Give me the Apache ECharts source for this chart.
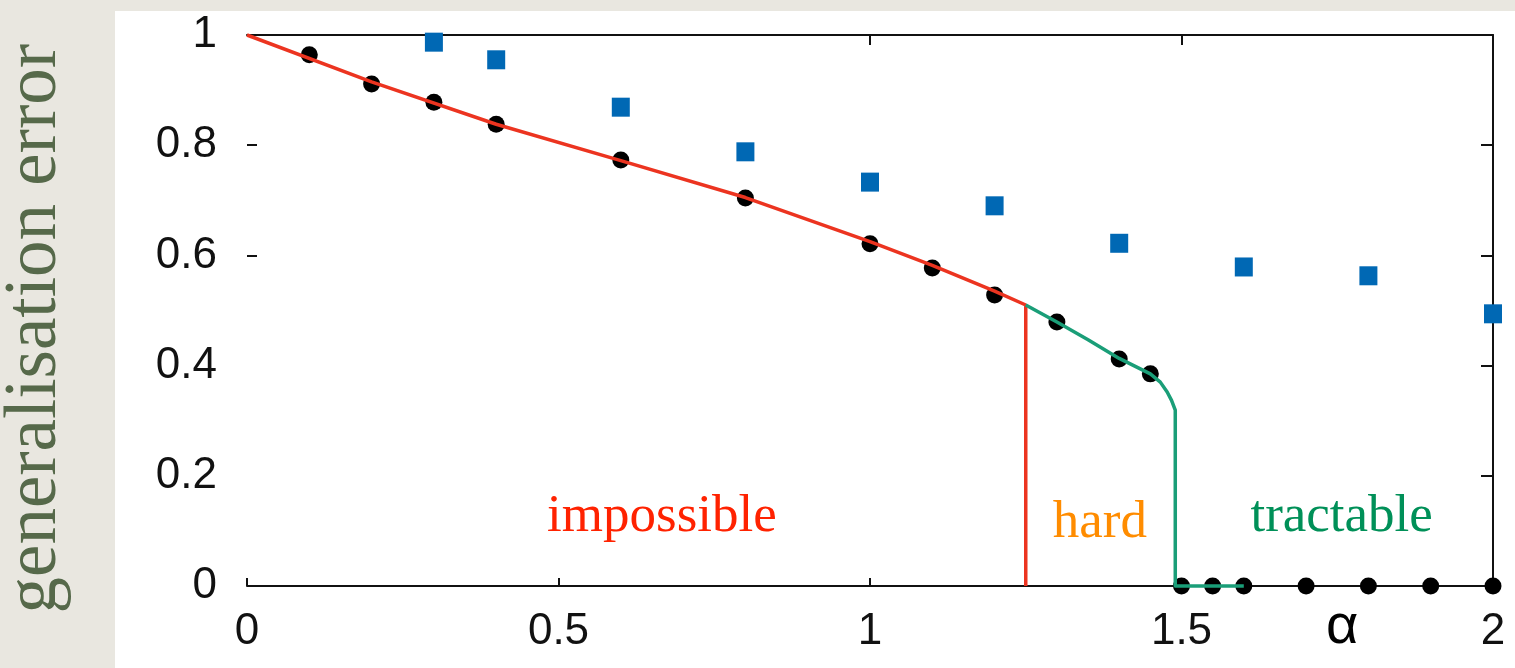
<!DOCTYPE html>
<html>
<head>
<meta charset="utf-8">
<script src="https://cdn.jsdelivr.net/npm/echarts@6/dist/echarts.min.js"></script>
<style>
  html, body { margin: 0; padding: 0; background: #e9e7e0; }
  #paper { position: absolute; left: 115px; top: 11px; right: 0; bottom: 0; background: #fff; }
  #chart { position: absolute; left: 0; top: 0; width: 1515px; height: 668px; }
</style>
</head>
<body>
<div id="paper"></div>
<div id="chart"></div>
<script>
// measured points (black dots)
var alphaDots = [0.1, 0.2, 0.3, 0.4, 0.6, 0.8, 1.0, 1.1, 1.2, 1.3, 1.4, 1.45, 1.5, 1.55, 1.6, 1.7, 1.8, 1.9, 2.0];
var errDots   = [0.964, 0.911, 0.878, 0.838, 0.773, 0.704, 0.621, 0.577, 0.528, 0.479, 0.412, 0.385, 0, 0, 0, 0, 0, 0, 0];
// blue squares
var alphaSquares = [0.3, 0.4, 0.6, 0.8, 1.0, 1.2, 1.4, 1.6, 1.8, 2.0];
var errSquares   = [0.987, 0.955, 0.869, 0.788, 0.733, 0.690, 0.622, 0.579, 0.563, 0.494];
// theory curve, impossible part (red) incl. the vertical drop
var alphaRed = [0, 0.2, 0.4, 0.6, 0.8, 1.0, 1.1, 1.2, 1.25, 1.25];
var errRed   = [1, 0.915, 0.838, 0.772, 0.705, 0.625, 0.582, 0.535, 0.51, 0];
// theory curve, hard part (green)
var alphaGreen = [1.25, 1.3, 1.35, 1.4, 1.45, 1.466, 1.477, 1.484, 1.49, 1.49, 1.6];
var errGreen   = [0.51, 0.479, 0.447, 0.413, 0.385, 0.37, 0.352, 0.337, 0.319, 0, 0];
// region names and where they sit
var regionNames = ['impossible', 'hard', 'tractable'];
var regionAlpha = [0.666, 1.369, 1.757];
var regionErr   = [0.125, 0.114, 0.125];
var regionColors = ['#ff2200', '#ff8c00', '#009058'];
// ticks
var xTicks = [0, 0.5, 1, 1.5, 2];
var yTicks = [0, 0.2, 0.4, 0.6, 0.8, 1];
var leftTicks = [0.6, 0.8];   // only these show on the left edge
var topTicks = [1, 1.5];      // only these show on the top edge

function zip(xs, ys) {
  return xs.map(function (x, i) { return [x, ys[i]]; });
}

var axisColor = '#111';
var tickFont = 'Liberation Sans';

var myChart = echarts.init(document.getElementById('chart'));
myChart.setOption({
  animation: false,
  backgroundColor: 'transparent',
  grid: {
    left: 247,
    right: 22,
    top: 35,
    bottom: 82,
    containLabel: false,
    outerBoundsMode: 'none'
  },
  xAxis: [{
    type: 'value',
    position: 'bottom',
    min: xTicks[0],
    max: xTicks[xTicks.length - 1],
    interval: 0.5,
    name: '\nα', // empty first line pushes α below the axis line
    nameLocation: 'end',
    nameGap: -167,
    nameTextStyle: {
      fontFamily: tickFont,
      fontSize: 56,
      lineHeight: 84,
      color: '#000',
      verticalAlign: 'middle'
    },
    axisLine: { show: true, onZero: false, lineStyle: { color: axisColor, width: 2 } },
    axisTick: { show: true, inside: true, length: 8, lineStyle: { color: axisColor, width: 2 } },
    axisLabel: { fontFamily: tickFont, fontSize: 44, color: '#111', margin: 24 },
    splitLine: { show: false }
  }, {
    type: 'value',
    position: 'top',
    min: xTicks[0],
    max: xTicks[xTicks.length - 1],
    interval: 0.5,
    axisLine: { show: true, onZero: false, lineStyle: { color: axisColor, width: 2 } },
    axisTick: { show: true, inside: true, length: 10, customValues: topTicks, lineStyle: { color: axisColor, width: 2 } },
    axisLabel: { show: false },
    splitLine: { show: false }
  }],
  yAxis: [{
    type: 'value',
    position: 'left',
    min: yTicks[0],
    max: yTicks[yTicks.length - 1],
    interval: 0.2,
    name: 'generalisation error  ', // trailing spaces nudge it down a bit
    nameLocation: 'middle',
    nameRotate: 90,
    nameGap: 175,
    nameTextStyle: {
      fontFamily: 'Liberation Serif',
      fontSize: 73,
      color: '#56694a'
    },
    axisLine: { show: false },
    axisTick: { show: true, inside: true, length: 10, customValues: leftTicks, lineStyle: { color: axisColor, width: 2 } },
    axisLabel: { fontFamily: tickFont, fontSize: 44, color: '#111', margin: 30 },
    splitLine: { show: false }
  }, {
    type: 'value',
    position: 'right',
    min: yTicks[0],
    max: yTicks[yTicks.length - 1],
    interval: 0.2,
    axisLine: { show: true, onZero: false, lineStyle: { color: axisColor, width: 2 } },
    axisTick: { show: true, inside: true, length: 12, lineStyle: { color: axisColor, width: 2 } },
    axisLabel: { show: false },
    splitLine: { show: false }
  }],
  series: [{
    name: 'impossible',
    type: 'line',
    data: zip(alphaRed, errRed),
    symbol: 'none',
    clip: false,
    lineStyle: { color: '#ec3420', width: 3.5 }
  }, {
    name: 'hard',
    type: 'line',
    data: zip(alphaGreen, errGreen),
    symbol: 'none',
    clip: false,
    lineStyle: { color: '#1a9e78', width: 3.5, join: 'round' }
  }, {
    name: 'squares',
    type: 'scatter',
    data: zip(alphaSquares, errSquares),
    symbol: 'rect',
    symbolSize: [18, 19],
    clip: false,
    itemStyle: { color: '#0068b4', opacity: 1 }
  }, {
    name: 'dots',
    type: 'scatter',
    data: zip(alphaDots, errDots),
    symbol: 'circle',
    symbolSize: 17,
    clip: false,
    itemStyle: { color: '#000', opacity: 1 }
  }, {
    name: 'regions',
    type: 'scatter',
    symbolSize: 1,
    itemStyle: { color: 'rgba(0,0,0,0)', opacity: 1 },
    data: regionNames.map(function (n, i) {
      return {
        name: n,
        value: [regionAlpha[i], regionErr[i]],
        label: { color: regionColors[i] }
      };
    }),
    label: {
      show: true,
      position: 'inside',
      formatter: '{b}',
      opacity: 1,
      fontFamily: 'Liberation Serif',
      fontSize: 53
    }
  }]
});
</script>
</body>
</html>
